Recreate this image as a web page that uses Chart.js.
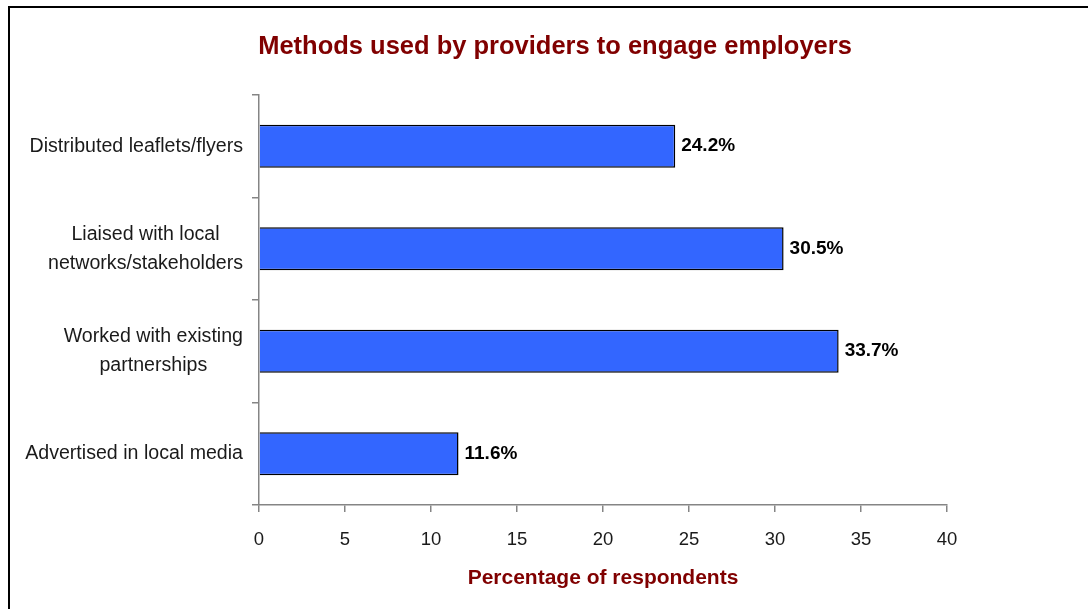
<!DOCTYPE html>
<html>
<head>
<meta charset="utf-8">
<script src="https://cdn.jsdelivr.net/npm/chart.js@4.4.1/dist/chart.umd.min.js"></script>
<style>
  html, body { margin: 0; padding: 0; background: #ffffff; }
  #wrap { width: 1088px; height: 609px; position: relative; }
</style>
</head>
<body>
<div id="wrap"><canvas id="c" width="1088" height="609"></canvas></div>
<script>
const chartTitle = 'Methods used by providers to engage employers';
const axisTitle = 'Percentage of respondents';
const categories = [
  ['Distributed leaflets/flyers'],
  ['Liaised with local', 'networks/stakeholders'],
  ['Worked with existing', 'partnerships'],
  ['Advertised in local media']
];
const values = [24.2, 30.5, 33.7, 11.6];
const valueLabels = ['24.2%', '30.5%', '33.7%', '11.6%'];
const xMin = 0, xMax = 40, xStep = 5;

const FONT = '"Liberation Sans", Arial, sans-serif';
const DARK_RED = '#800000';
const AXIS_GRAY = '#858585';
const TEXT = '#1a1a1a';

const overlay = {
  id: 'overlay',
  beforeDraw(chart) {
    const ctx = chart.ctx;
    ctx.save();
    ctx.fillStyle = '#ffffff';
    ctx.fillRect(0, 0, chart.width, chart.height);
    ctx.strokeStyle = '#000000';
    ctx.lineWidth = 2;
    ctx.beginPath();
    ctx.moveTo(9, chart.height);
    ctx.lineTo(9, 7);
    ctx.lineTo(chart.width, 7);
    ctx.stroke();
    ctx.restore();
  },
  afterDraw(chart) {
    const ctx = chart.ctx;
    const area = chart.chartArea;
    const yScale = chart.scales.y;
    ctx.save();
    // title
    ctx.fillStyle = DARK_RED;
    ctx.font = 'bold 25.5px ' + FONT;
    ctx.textAlign = 'center';
    ctx.textBaseline = 'middle';
    ctx.fillText(chartTitle, 555, 47);
    // axis title
    ctx.font = 'bold 21px ' + FONT;
    ctx.fillText(axisTitle, (area.left + area.right) / 2, 578);
    // category labels
    ctx.fillStyle = TEXT;
    ctx.font = '19.6px ' + FONT;
    const lineH = 29;
    categories.forEach((lines, i) => {
      const cy = yScale.getPixelForValue(i);
      const maxW = Math.max(...lines.map(l => ctx.measureText(l).width));
      const cx = area.left - 16 - maxW / 2;
      const startY = cy - (lines.length - 1) * lineH / 2;
      lines.forEach((l, j) => ctx.fillText(l, cx, startY + j * lineH));
    });
    // value labels
    ctx.font = 'bold 19px ' + FONT;
    ctx.fillStyle = '#000000';
    ctx.textAlign = 'left';
    const meta = chart.getDatasetMeta(0);
    meta.data.forEach((bar, i) => {
      ctx.fillText(valueLabels[i], bar.x + 6, bar.y);
    });
    ctx.restore();
  }
};

new Chart(document.getElementById('c'), {
  type: 'bar',
  data: {
    labels: categories,
    datasets: [{
      data: values,
      backgroundColor: '#3366FF',
      borderColor: '#000000',
      borderWidth: 1.5,
      categoryPercentage: 1.0,
      barPercentage: 0.42
    }]
  },
  options: {
    indexAxis: 'y',
    responsive: false,
    devicePixelRatio: 1,
    animation: false,
    layout: { padding: { left: 0, right: 141, top: 95, bottom: 0 } },
    plugins: { legend: { display: false }, title: { display: false }, tooltip: { enabled: false } },
    scales: {
      x: {
        type: 'linear',
        min: xMin, max: xMax,
        ticks: { stepSize: xStep, color: TEXT, font: { family: FONT, size: 18.5 }, padding: 17 },
        grid: { drawOnChartArea: false, drawTicks: true, tickLength: 7, color: AXIS_GRAY, lineWidth: 1.5 },
        border: { color: AXIS_GRAY, width: 1.5 },
        afterFit(s) { s.height = 104; }
      },
      y: {
        type: 'category',
        ticks: { display: false },
        grid: { drawOnChartArea: false, drawTicks: true, tickLength: 7, color: AXIS_GRAY, lineWidth: 1.5, offset: true },
        border: { color: AXIS_GRAY, width: 1.5 },
        afterFit(s) { s.width = 259; }
      }
    }
  },
  plugins: [overlay]
});
</script>
</body>
</html>
